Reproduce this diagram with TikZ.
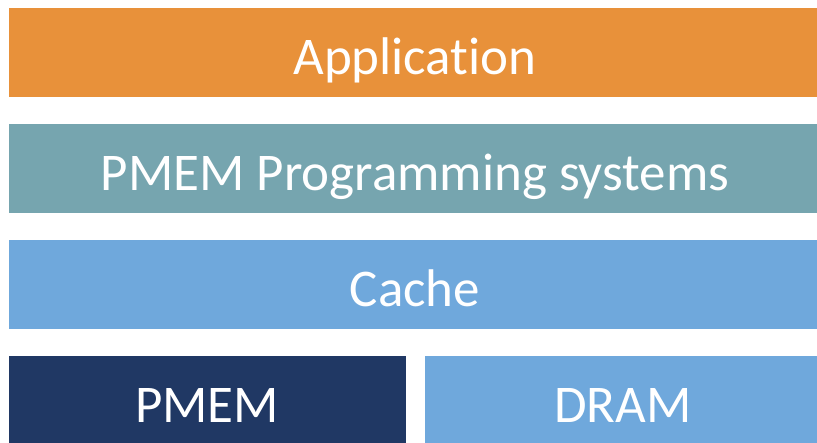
\documentclass[tikz,border=0pt]{standalone}
\usepackage{fontspec}
\setmainfont[Ligatures=NoCommon]{Carlito}
\definecolor{appor}{HTML}{E8913A}
\definecolor{teal2}{HTML}{76A5AF}
\definecolor{lblue}{HTML}{6FA8DC}
\definecolor{navy}{HTML}{203864}
\begin{document}
\begin{tikzpicture}[x=1pt,y=-1pt,
  layer/.style={inner sep=0pt, text=white, anchor=base, font=\fontsize{53}{58}\selectfont}]
\useasboundingbox (0,0) rectangle (817,443);
\fill[appor] (9,8) rectangle (817,97);
\node[layer] (app) at (415,75) {Application};
\fill[teal2] (9,124) rectangle (817,213);
\node[layer] (pps) at (415,191) {PMEM Programming systems};
\fill[lblue] (9,240) rectangle (817,329);
\node[layer] (cache) at (415,307) {Cache};
\fill[navy] (9,356) rectangle (406,443);
\node[layer] (pmem) at (207,423) {PMEM};
\fill[lblue] (425,356) rectangle (817,443);
\node[layer] (dram) at (623,423) {DRAM};
\end{tikzpicture}
\end{document}
